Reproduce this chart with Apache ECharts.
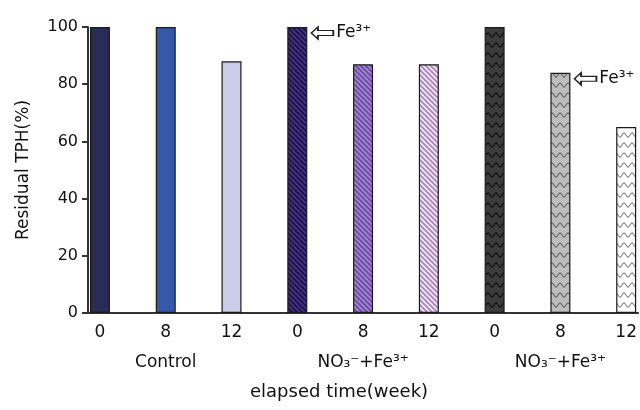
<!DOCTYPE html>
<html>
<head>
<meta charset="utf-8">
<script src="https://cdn.jsdelivr.net/npm/echarts@6/dist/echarts.min.js"></script>
<style>html,body{margin:0;padding:0;background:#fff}#c{width:640px;height:410px}</style>
</head>
<body>
<div id="c"></div>
<script>
// ---- data ----
const weekLabels = ['0', '8', '12', '0', '8', '12', '0', '8', '12'];
const groupLabels = ['Control', 'NO₃⁻+Fe³⁺', 'NO₃⁻+Fe³⁺'];
const groupCenters = [1, 4, 7];
const residualTPH = [100, 100, 88, 100, 87, 87, 100, 84, 65];
const fe3Added = [3, 7];           // bars marked "⇦ Fe³⁺"
const yTicks = [0, 20, 40, 60, 80, 100];

// ---- fills ----
function hatch(bg, fg) {
  const s = 5;
  const c = document.createElement('canvas'); c.width = s; c.height = s;
  const g = c.getContext('2d');
  g.fillStyle = bg; g.fillRect(0, 0, s, s);
  g.strokeStyle = fg; g.lineWidth = 1.8;
  g.beginPath();
  g.moveTo(-1, -1); g.lineTo(s + 1, s + 1);
  g.moveTo(-1, s - 1); g.lineTo(1, s + 1);
  g.moveTo(s - 1, -1); g.lineTo(s + 1, 1);
  g.stroke();
  return { image: c, repeat: 'repeat' };
}
function wave(bg, fg) {
  const w = 8, h = 10;
  const c = document.createElement('canvas'); c.width = w; c.height = h;
  const g = c.getContext('2d');
  g.fillStyle = bg; g.fillRect(0, 0, w, h);
  g.strokeStyle = fg; g.lineWidth = 1.2;
  g.beginPath();
  for (let x = 0; x <= w; x += 0.5) {
    const y = 5 - 2 * Math.cos(2 * Math.PI * x / w);
    if (x === 0) g.moveTo(x, y); else g.lineTo(x, y);
  }
  g.stroke();
  return { image: c, repeat: 'repeat' };
}
const fills = [
  '#2b2b57', '#3559a8', '#cacde8',
  hatch('#46358e', '#1c1440'), hatch('#a488d2', '#6a4aa0'), hatch('#f3e8f3', '#a888bc'),
  wave('#3c3c3c', '#0e0e0e'), wave('#bdbdbd', '#6a6a6a'), wave('#ffffff', '#8a8a8a')
];

const FONT = 'DejaVu Sans';
const xMin = -12 / 66, xMax = 540 / 66;

const chart = echarts.init(document.getElementById('c'), null, { renderer: 'canvas' });
chart.setOption({
  animation: false,
  backgroundColor: '#ffffff',
  grid: { left: 88, right: 0, top: 27, bottom: 97 },
  xAxis: [
    {
      type: 'value', min: xMin, max: xMax,
      axisLine: { show: true, onZero: false, lineStyle: { color: '#333', width: 2 } },
      axisTick: { show: false },
      splitLine: { show: false },
      axisLabel: {
        customValues: weekLabels.map((_, i) => i),
        formatter: v => weekLabels[Math.round(v)],
        fontFamily: FONT, fontSize: 17, color: '#111', margin: 11
      },
      name: 'elapsed time(week)', nameLocation: 'middle', nameGap: 70,
      nameTextStyle: { fontFamily: FONT, fontSize: 18, color: '#111', padding: [0, 48, 0, 0] }
    },
    {
      type: 'value', min: xMin, max: xMax, position: 'bottom', offset: 30,
      axisLine: { show: false }, axisTick: { show: false }, splitLine: { show: false },
      axisLabel: {
        customValues: groupCenters,
        formatter: v => groupLabels[groupCenters.indexOf(Math.round(v))],
        fontFamily: FONT, fontSize: 17, color: '#111', margin: 11
      }
    }
  ],
  yAxis: {
    type: 'value', min: 0, max: 100, interval: 20,
    axisLine: { show: true, onZero: false, lineStyle: { color: '#333', width: 2 } },
    axisTick: { show: true, length: 6, lineStyle: { color: '#333', width: 2 } },
    splitLine: { show: false },
    axisLabel: { fontFamily: FONT, fontSize: 16, color: '#111', margin: 10,
      formatter: v => yTicks.includes(v) ? String(v) : '' },
    name: 'Residual TPH(%)', nameLocation: 'middle', nameGap: 56,
    nameTextStyle: { fontFamily: FONT, fontSize: 17, color: '#111' }
  },
  series: [{
    type: 'bar',
    barWidth: 20,
    data: residualTPH.map((v, i) => ({
      value: [i, v],
      itemStyle: { color: fills[i], borderColor: '#1a1a1a', borderWidth: 1.2 }
    })),
    markPoint: {
      symbol: 'path://M0,5 L6,0 L6,3 L20,3 L20,7 L6,7 L6,10 Z',
      symbolSize: [22, 12],
      symbolOffset: [25, 6],
      itemStyle: { color: '#fff', borderColor: '#222', borderWidth: 1.4 },
      label: { show: true, position: 'right', distance: 2, formatter: 'Fe³⁺',
        fontFamily: FONT, fontSize: 17, color: '#111' },
      data: fe3Added.map(i => ({ coord: [i, residualTPH[i]] }))
    }
  }]
});
</script>
</body>
</html>
